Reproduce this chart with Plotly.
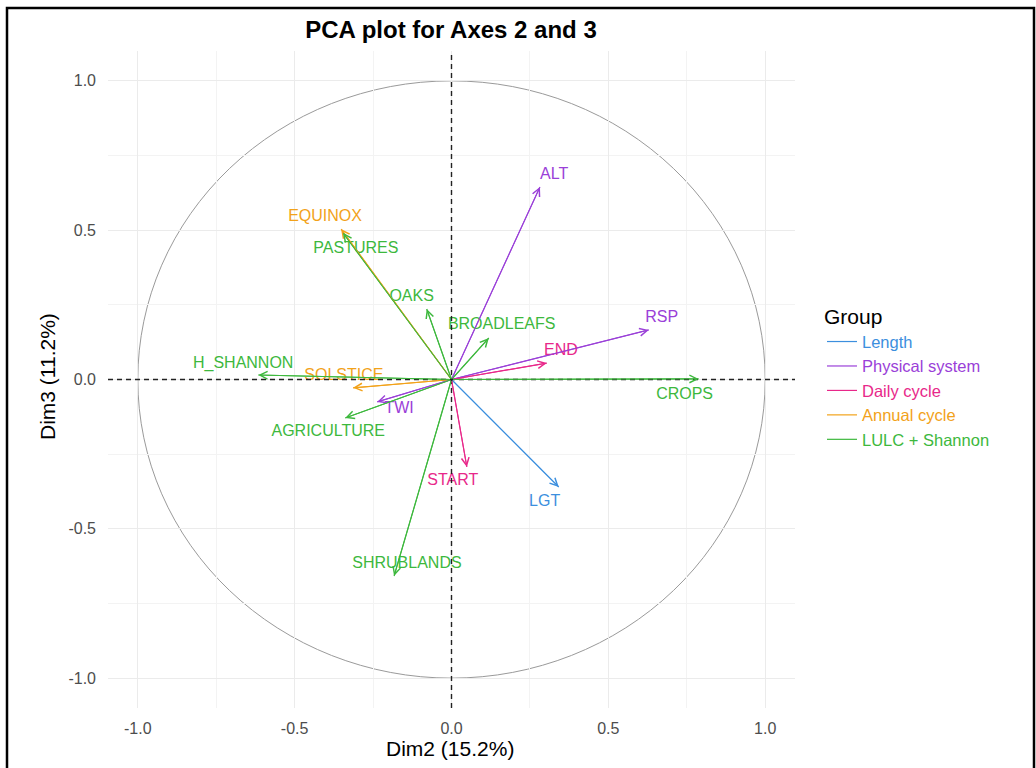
import plotly.graph_objects as go

# ---------------- data ----------------
variables = ["LGT", "ALT", "RSP", "TWI", "START", "END", "EQUINOX", "SOLSTICE",
             "CROPS", "PASTURES", "OAKS", "BROADLEAFS", "H_SHANNON", "AGRICULTURE", "SHRUBLANDS"]
dim2 = [0.342, 0.282, 0.629, -0.237, 0.049, 0.304, -0.352, -0.314,
        0.788, -0.346, -0.079, 0.119, -0.616, -0.339, -0.183]
dim3 = [-0.360, 0.645, 0.166, -0.075, -0.293, 0.055, 0.504, -0.028,
        0.002, 0.491, 0.236, 0.139, 0.015, -0.129, -0.658]
groups = ["Length", "Physical system", "Physical system", "Physical system",
          "Daily cycle", "Daily cycle", "Annual cycle", "Annual cycle",
          "LULC + Shannon", "LULC + Shannon", "LULC + Shannon", "LULC + Shannon",
          "LULC + Shannon", "LULC + Shannon", "LULC + Shannon"]
group_order = ["Length", "Physical system", "Daily cycle", "Annual cycle", "LULC + Shannon"]
tick_vals = [-1.0, -0.5, 0.0, 0.5, 1.0]
tick_text = ["-1.0", "-0.5", "0.0", "0.5", "1.0"]

# label offsets (repelled label placement, data units)
label_dx = [-0.045, 0.045, 0.041, 0.070, -0.045, 0.045, -0.051, -0.029,
            -0.045, 0.041, -0.048, 0.041, -0.048, -0.054, 0.041]
label_dy = [-0.050, 0.040, 0.040, -0.023, -0.047, 0.040, 0.040, 0.040,
            -0.054, -0.054, 0.040, 0.043, 0.037, -0.047, 0.040]

# ---------------- style ----------------
colors = {"Length": "#3C8FDE", "Physical system": "#9A40D8", "Daily cycle": "#E8288A",
          "Annual cycle": "#F2A21A", "LULC + Shannon": "#3DB83D"}
FONT = "Liberation Sans, Arial, sans-serif"
W, H = 1036, 768
L, T = 108, 51       # panel top-left in pixels
pw, ph = 687, 657
R, B = W - L - pw, H - T - ph
BOT = T + ph


def px(xr):
    return (xr - L) / pw


def py(yr):
    return (BOT - yr) / ph


fig = go.Figure()

for g in group_order:
    xs, ys = [], []
    tx, ty, tt = [], [], []
    for v, x, y, gg, dx, dy in zip(variables, dim2, dim3, groups, label_dx, label_dy):
        if gg != g:
            continue
        xs += [0, x, None]
        ys += [0, y, None]
        tx.append(x + dx)
        ty.append(y + dy)
        tt.append(v)
    fig.add_trace(go.Scatter(x=xs, y=ys, mode="lines",
                             name=f"<span style='color:{colors[g]}'>{g}</span>", legendgroup=g,
                             line=dict(color=colors[g], width=1.2), hoverinfo="skip"))
    fig.add_trace(go.Scatter(x=tx, y=ty, mode="text", text=tt, legendgroup=g, showlegend=False,
                             textfont=dict(color=colors[g], size=16, family=FONT),
                             textposition="middle center", hoverinfo="skip"))

annotations = []
for v, x, y, g in zip(variables, dim2, dim3, groups):
    annotations.append(dict(x=x, y=y, ax=0, ay=0, xref="x", yref="y", axref="x", ayref="y",
                            text="", showarrow=True, arrowhead=5, arrowsize=1.5,
                            arrowwidth=1, arrowcolor=colors[g]))

# axis titles
annotations.append(dict(text="Dim2 (15.2%)", xref="paper", yref="paper",
                        x=px(450), y=py(748), xanchor="center", yanchor="middle",
                        showarrow=False, font=dict(size=21, color="black", family=FONT)))
annotations.append(dict(text="Dim3 (11.2%)", xref="paper", yref="paper", textangle=-90,
                        x=px(47), y=py(377), xanchor="center", yanchor="middle",
                        showarrow=False, font=dict(size=21, color="black", family=FONT)))

shapes = [
    dict(type="circle", xref="x", yref="y", x0=-1, y0=-1, x1=1, y1=1,
         line=dict(color="#9a9a9a", width=1), layer="below"),
    dict(type="line", xref="x", yref="paper", x0=0, x1=0, y0=0, y1=1,
         line=dict(color="#222222", width=1.4, dash="5px,4px"), layer="above"),
    dict(type="line", xref="paper", yref="y", x0=0, x1=1, y0=0, y1=0,
         line=dict(color="#222222", width=1.4, dash="5px,4px"), layer="above"),
    # outer frame
    dict(type="rect", xref="paper", yref="paper",
         x0=px(7), x1=px(1034), y0=py(800), y1=py(8),
         line=dict(color="black", width=2.5), fillcolor="rgba(0,0,0,0)"),
]

axis_common = dict(
    tickvals=tick_vals, ticktext=tick_text, showgrid=True, gridcolor="#ebebeb", gridwidth=1,
    zeroline=False, showline=False, ticks="",
    tickfont=dict(size=16, color="#4d4d4d", family=FONT),
    minor=dict(dtick=0.25, tick0=0, showgrid=True, gridcolor="#f3f3f3", gridwidth=1),
)

fig.update_layout(
    width=W, height=H,
    margin=dict(l=L, r=R, t=T, b=B, autoexpand=False),
    paper_bgcolor="white", plot_bgcolor="white",
    title=dict(text="<b>PCA plot for Axes 2 and 3</b>", x=451 / W, xanchor="center",
               y=1 - 30 / H, yanchor="middle", xref="container", yref="container",
               font=dict(size=24, color="black", family=FONT)),
    xaxis=dict(range=[-1.095, 1.095], ticklabelstandoff=9, **axis_common),
    yaxis=dict(range=[-1.1, 1.1], ticklabelstandoff=11, **axis_common),
    legend=dict(title=dict(text="Group", font=dict(size=21, color="black", family=FONT)),
                font=dict(size=16.5, family=FONT), x=px(822), xanchor="left",
                y=py(297), yanchor="top", bgcolor="rgba(0,0,0,0)",
                itemwidth=30, tracegroupgap=0),
    annotations=annotations,
    shapes=shapes,
    showlegend=True,
)

fig.write_html("out.html", config={"displayModeBar": False},
               post_script="document.body.style.margin='0';document.body.style.overflow='hidden';")
